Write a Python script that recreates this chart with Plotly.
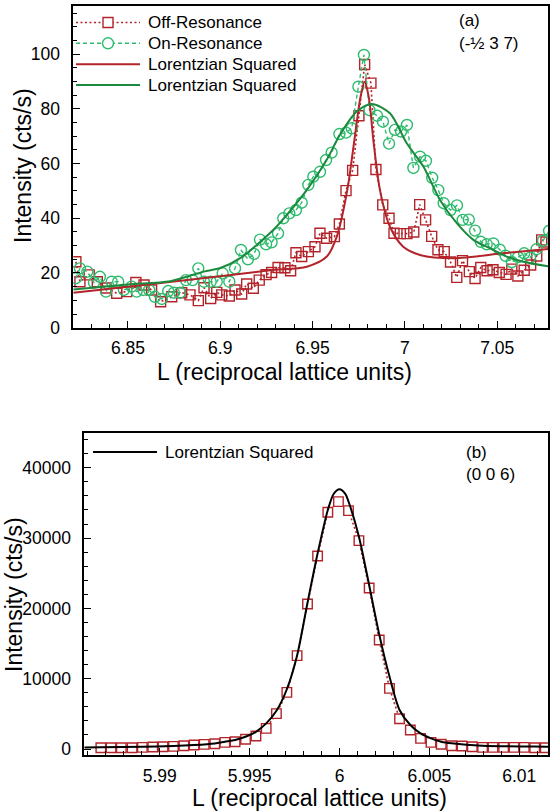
import plotly.graph_objects as go

# ---------------- Panel (a) data ----------------
off_L = [6.8218, 6.8240, 6.8290, 6.8334, 6.8381, 6.8439, 6.8493, 6.8543, 6.8587, 6.8628,
         6.8677, 6.8737, 6.8791, 6.8836, 6.8881, 6.8912, 6.8948, 6.8981, 6.9008, 6.9049,
         6.9080, 6.9116, 6.9143, 6.9179, 6.9211, 6.9248, 6.9278, 6.9313, 6.9350, 6.9381,
         6.9410, 6.9441, 6.9477, 6.9513, 6.9540, 6.9576, 6.9618, 6.9645, 6.9681, 6.9717,
         6.9751, 6.9782, 6.9816, 6.9843, 6.9880, 6.9914, 6.9941, 6.9975, 7.0011, 7.0048,
         7.0080, 7.0112, 7.0145, 7.0179, 7.0213, 7.0247, 7.0281, 7.0312, 7.0349, 7.0380,
         7.0411, 7.0445, 7.0477, 7.0511, 7.0548, 7.0579, 7.0612, 7.0646, 7.0681, 7.0714,
         7.0741, 7.0764]
off_I = [24.1, 16.8, 19.3, 16.8, 14.5, 12.6, 13.2, 16.5, 15.6, 13.8,
         9.5, 11.3, 12.8, 12.0, 9.9, 14.6, 10.7, 12.9, 12.0, 11.6,
         13.8, 12.3, 16.0, 14.4, 17.4, 19.4, 20.2, 22.0, 21.9, 20.8,
         27.4, 26.0, 27.8, 29.6, 34.5, 32.7, 33.3, 37.9, 50.1, 57.5,
         77.5, 96.2, 89.4, 57.8, 44.9, 40.0, 34.5, 34.4, 34.4, 35.0,
         45.0, 39.4, 33.4, 28.5, 27.8, 24.0, 18.4, 24.5, 20.5, 18.0,
         22.0, 20.8, 21.2, 20.2, 19.5, 21.4, 18.9, 21.0, 22.9, 26.2,
         32.1, 31.3]

on_L = [6.8218, 6.8240, 6.8280, 6.8316, 6.8348, 6.8381, 6.8412, 6.8447, 6.8478, 6.8520,
        6.8547, 6.8583, 6.8615, 6.8646, 6.8683, 6.8718, 6.8749, 6.8782, 6.8814, 6.8850,
        6.8881, 6.8912, 6.8948, 6.8981, 6.9013, 6.9049, 6.9080, 6.9112, 6.9150, 6.9183,
        6.9215, 6.9248, 6.9278, 6.9313, 6.9341, 6.9374, 6.9410, 6.9441, 6.9477, 6.9504,
        6.9540, 6.9573, 6.9603, 6.9645, 6.9681, 6.9712, 6.9748, 6.9778, 6.9808, 6.9849,
        6.9881, 6.9914, 6.9946, 6.9979, 7.0011, 7.0046, 7.0082, 7.0114, 7.0148, 7.0181,
        7.0210, 7.0247, 7.0282, 7.0313, 7.0346, 7.0380, 7.0411, 7.0443, 7.0479, 7.0514,
        7.0545, 7.0579, 7.0613, 7.0646, 7.0678, 7.0713, 7.0748, 7.0781]
on_I = [18.1, 21.7, 20.5, 16.5, 18.6, 13.2, 16.8, 16.8, 13.8, 15.0,
        13.2, 13.8, 13.8, 11.3, 10.5, 13.4, 12.8, 12.8, 17.4, 17.4,
        21.7, 16.8, 16.8, 16.8, 19.9, 16.8, 21.7, 28.4, 25.0, 27.0,
        32.2, 30.5, 31.2, 34.5, 40.0, 41.8, 43.0, 45.7, 52.2, 55.2,
        57.0, 61.3, 64.0, 70.8, 71.3, 72.9, 88.1, 99.7, 79.5, 77.5,
        75.3, 67.3, 72.3, 71.7, 74.1, 58.4, 62.5, 61.0, 54.8, 50.3,
        45.5, 43.0, 44.7, 39.4, 39.5, 35.5, 31.4, 30.5, 30.8, 28.5,
        26.3, 24.0, 25.8, 27.2, 25.6, 28.7, 31.8, 35.4]

fit_off_L = [6.8204, 6.8500, 6.9000, 6.9269, 6.9469, 6.9577, 6.9631, 6.9688, 6.9724, 6.9760,
             6.9782, 6.9805, 6.9829, 6.9865, 6.9919, 6.9991, 7.0082, 7.0262, 7.0533, 7.0780]
fit_off_I = [12.8, 15.0, 18.8, 21.0, 22.3, 26.0, 33.3, 50.3, 67.4, 84.5,
             89.9, 84.0, 68.6, 50.3, 36.9, 29.6, 26.6, 25.4, 27.2, 28.8]

fit_on_L = [6.8204, 6.8500, 6.8730, 6.8910, 6.9000, 6.9110, 6.9287, 6.9323, 6.9468, 6.9576,
            6.9648, 6.9739, 6.9820, 6.9919, 7.0010, 7.0100, 7.0190, 7.0281, 7.0371, 7.0461,
            7.0551, 7.0641, 7.0786]
fit_on_I = [14.0, 15.8, 17.0, 20.5, 21.8, 25.5, 35.7, 38.3, 50.3, 61.3,
            70.5, 79.0, 81.8, 78.4, 67.4, 58.9, 46.7, 38.2, 32.1, 29.0,
            26.0, 24.1, 22.3]

# ---------------- Panel (b) data ----------------
b_L = [5.98672, 5.98729, 5.98786, 5.98846, 5.98903, 5.98961, 5.99018, 5.99076, 5.99134, 5.99191,
       5.99247, 5.99306, 5.99362, 5.99419, 5.99477, 5.99535, 5.99592, 5.99649, 5.99707, 5.99764,
       5.99822, 5.99878, 5.99935, 5.99994, 6.00050, 6.00108, 6.00165, 6.00221, 6.00278, 6.00334,
       6.00394, 6.00451, 6.00509, 6.00566, 6.00624, 6.00682, 6.00739, 6.00796, 6.00854, 6.00913,
       6.00971, 6.01028, 6.01086, 6.01145]
b_I = [190, 190, 190, 190, 240, 280, 330, 380, 470, 570,
       660, 760, 950, 1040, 1380, 1850, 2940, 5030, 8060, 13280,
       20630, 27450, 33670, 35180, 33900, 29630, 22900, 15500, 8630, 4310,
       2700, 1520, 950, 670, 470, 430, 330, 240, 240, 240,
       240, 240, 190, 190]

fit_b_L = [5.98580, 5.98672, 5.98903, 5.99076, 5.99191, 5.99306, 5.99362, 5.99419, 5.99477, 5.99535,
           5.99592, 5.99649, 5.99707, 5.99764, 5.99822, 5.99878, 5.99935, 5.99968, 6.00000, 6.00032,
           6.00050, 6.00108, 6.00165, 6.00221, 6.00278, 6.00334, 6.00394, 6.00451, 6.00509, 6.00566,
           6.00624, 6.00796, 6.01145, 6.01160]
fit_b_I = [220, 240, 330, 430, 570, 800, 1040, 1280, 1750, 2450,
           3650, 5450, 8500, 13300, 20800, 27800, 34000, 36300, 36940, 36300,
           35200, 30200, 23300, 16300, 10300, 5550, 3410, 2230, 1520, 1040,
           810, 470, 330, 320]

legend_a_labels = ["Off-Resonance", "On-Resonance", "Lorentzian Squared", "Lorentzian Squared"]
legend_b_labels = ["Lorentzian Squared"]
x_title = "L (reciprocal lattice units)"
y_title = "Intensity (cts/s)"

RED = "#B3242A"
GREEN_FIT = "#1B8A3C"
GREEN_PT = "#2DBB6E"
FONT = "Liberation Sans, Arial, sans-serif"
W, H = 550, 812
DOT = "2px,2.5px"
DASH = "4px,3px"


def px(x):
    return x / W


def py(y):
    return 1 - y / H


fig = go.Figure()

fig.add_trace(go.Scatter(x=off_L, y=off_I, mode="lines+markers", name=legend_a_labels[0],
                         line=dict(color=RED, width=1.6, dash=DOT),
                         marker=dict(symbol="square-open", size=10, color=RED,
                                     line=dict(color=RED, width=1.4)),
                         xaxis="x", yaxis="y"))
fig.add_trace(go.Scatter(x=on_L, y=on_I, mode="lines+markers", name=legend_a_labels[1],
                         line=dict(color=GREEN_PT, width=1.4, dash=DASH),
                         marker=dict(symbol="circle-open", size=11, color=GREEN_PT,
                                     line=dict(color=GREEN_PT, width=1.4)),
                         xaxis="x", yaxis="y"))
fig.add_trace(go.Scatter(x=fit_off_L, y=fit_off_I, mode="lines", name=legend_a_labels[2],
                         line=dict(color=RED, width=2, shape="spline", smoothing=0.8),
                         xaxis="x", yaxis="y"))
fig.add_trace(go.Scatter(x=fit_on_L, y=fit_on_I, mode="lines", name=legend_a_labels[3],
                         line=dict(color=GREEN_FIT, width=2, shape="spline", smoothing=0.8),
                         xaxis="x", yaxis="y"))

fig.add_trace(go.Scatter(x=b_L, y=b_I, mode="lines+markers", name="(0 0 6)",
                         line=dict(color=RED, width=1.6, dash=DOT),
                         marker=dict(symbol="square", size=9.5, color="white",
                                     line=dict(color=RED, width=1.4)),
                         xaxis="x2", yaxis="y2"))
fig.add_trace(go.Scatter(x=fit_b_L, y=fit_b_I, mode="lines", name=legend_b_labels[0],
                         line=dict(color="black", width=2, shape="spline", smoothing=0.8),
                         xaxis="x2", yaxis="y2"))

axis_common = dict(showline=True, linecolor="black", linewidth=1.8, mirror=True,
                   ticks="inside", ticklen=7, tickwidth=1.4, tickcolor="black",
                   showgrid=False, zeroline=False, automargin=False,
                   tickfont=dict(family=FONT, size=17.5, color="black"))

# ---- legend key (drawn in page coordinates) ----
shapes = []
annotations = []
rows_a = [22.5, 43.3, 64.2, 85.0]
styles_a = [
    dict(color=RED, width=1.6, dash=DOT),
    dict(color=GREEN_PT, width=1.4, dash=DASH),
    dict(color=RED, width=2),
    dict(color=GREEN_FIT, width=2),
]
for yy, st in zip(rows_a, styles_a):
    shapes.append(dict(type="line", xref="paper", yref="paper",
                       x0=px(76), x1=px(140), y0=py(yy), y1=py(yy), line=st))
shapes.append(dict(type="rect", xref="paper", yref="paper",
                   x0=px(103), x1=px(113), y0=py(rows_a[0] - 5), y1=py(rows_a[0] + 5),
                   line=dict(color=RED, width=1.4), fillcolor="white"))
shapes.append(dict(type="circle", xref="paper", yref="paper",
                   x0=px(102.5), x1=px(113.5), y0=py(rows_a[1] - 5.5), y1=py(rows_a[1] + 5.5),
                   line=dict(color=GREEN_PT, width=1.4), fillcolor="white"))
for yy, lab in zip(rows_a, legend_a_labels):
    annotations.append(dict(text=lab, x=px(146), y=py(yy), xref="paper", yref="paper",
                            xanchor="left", yanchor="middle", showarrow=False,
                            font=dict(family=FONT, size=17, color="black")))

shapes.append(dict(type="line", xref="paper", yref="paper",
                   x0=px(93), x1=px(157), y0=py(452), y1=py(452),
                   line=dict(color="black", width=2)))
annotations.append(dict(text=legend_b_labels[0], x=px(163), y=py(452), xref="paper", yref="paper",
                        xanchor="left", yanchor="middle", showarrow=False,
                        font=dict(family=FONT, size=17, color="black")))

for txt, xx, yy in [("(a)", 457, 21), ("(-½ 3 7)", 457, 43), ("(b)", 464, 452), ("(0 0 6)", 464, 474)]:
    annotations.append(dict(text=txt, x=px(xx), y=py(yy), xref="paper", yref="paper",
                            xanchor="left", yanchor="middle", showarrow=False,
                            font=dict(family=FONT, size=17, color="black")))

# ---- axis titles ----
for txt, xx, yy, ang in [(x_title, 284.5, 372, 0), (x_title, 319.5, 798, 0),
                         (y_title, 23, 166, -90), (y_title, 14, 595, -90)]:
    annotations.append(dict(text=txt, x=px(xx), y=py(yy), xref="paper", yref="paper",
                            xanchor="center", yanchor="middle", showarrow=False, textangle=ang,
                            font=dict(family=FONT, size=23, color="black")))

fig.update_layout(
    width=W, height=H,
    margin=dict(l=0, r=0, t=0, b=0),
    paper_bgcolor="white", plot_bgcolor="white",
    font=dict(family=FONT, color="black"),
    showlegend=False,
    hovermode=False,
    xaxis=dict(domain=[px(73.3), px(548)], anchor="y", range=[6.8204, 7.0775],
               tickvals=[6.85, 6.9, 6.95, 7.0, 7.05], ticktext=["6.85", "6.9", "6.95", "7", "7.05"],
               minor=dict(ticks="inside", ticklen=4, tickwidth=1.2, tickcolor="black", dtick=0.01, tick0=6.8),
               ticklabelstandoff=3,
               **axis_common),
    yaxis=dict(domain=[py(327.7), py(5.7)], anchor="x", range=[0, 117.7],
               tickvals=[0, 20, 40, 60, 80, 100],
               minor=dict(ticks="inside", ticklen=4, tickwidth=1.2, tickcolor="black", dtick=5, tick0=0),
               ticklabelstandoff=8,
               **axis_common),
    xaxis2=dict(domain=[px(84.3), px(548)], anchor="y2", range=[5.9858, 6.0116],
                tickvals=[5.99, 5.995, 6.0, 6.005, 6.01], ticktext=["5.99", "5.995", "6", "6.005", "6.01"],
                minor=dict(ticks="inside", ticklen=4, tickwidth=1.2, tickcolor="black", dtick=0.001, tick0=5.98),
                ticklabelstandoff=4,
                **axis_common),
    yaxis2=dict(domain=[py(755), py(433.3)], anchor="x2", range=[-850, 44900],
                tickvals=[0, 10000, 20000, 30000, 40000],
                ticktext=["0", "10000", "20000", "30000", "40000"],
                minor=dict(ticks="inside", ticklen=4, tickwidth=1.2, tickcolor="black", dtick=2000, tick0=0),
                ticklabelstandoff=8,
                **axis_common),
    shapes=shapes,
    annotations=annotations,
)

fig.write_html("out.html", config={"displayModeBar": False},
               post_script="document.body.style.margin='0px';document.body.style.overflow='hidden';")
